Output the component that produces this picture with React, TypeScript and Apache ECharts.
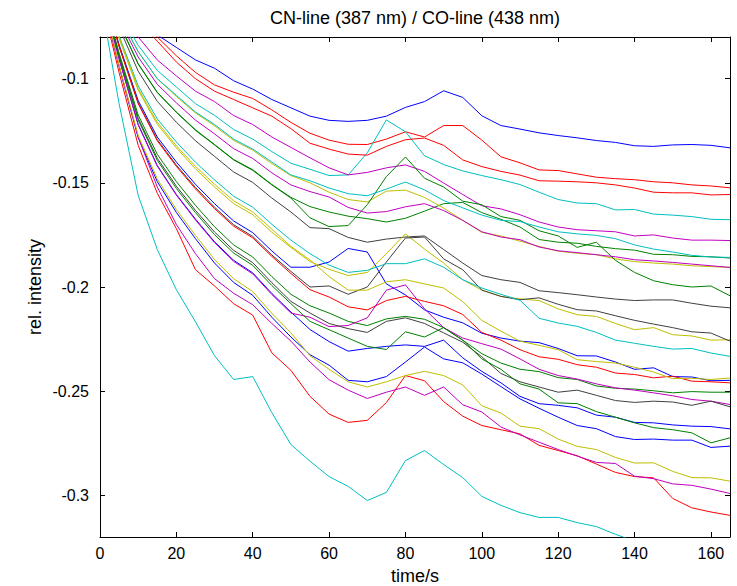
import { useEffect, useRef } from "react";
import * as echarts from "echarts";

// time axis (s)
const times = [0, 5, 10, 15, 20, 25, 30, 35, 40, 45, 50, 55, 60, 65, 70, 75, 80, 85, 90, 95, 100, 105, 110, 115, 120, 125, 130, 135, 140, 145, 150, 155, 160, 165];

// relative intensity curves
const lineA = [-0.040, -0.058, -0.069, -0.079, -0.085, -0.091, -0.095, -0.101, -0.105, -0.110, -0.114, -0.118, -0.120, -0.1205, -0.120, -0.118, -0.1138, -0.111, -0.1058, -0.109, -0.1178, -0.1225, -0.1242, -0.126, -0.1273, -0.1284, -0.1297, -0.1306, -0.1322, -0.1325, -0.1318, -0.1316, -0.132, -0.1332];
const lineB = [-0.040, -0.058, -0.070, -0.080, -0.089, -0.097, -0.103, -0.1065, -0.1095, -0.115, -0.121, -0.1262, -0.1295, -0.1315, -0.1316, -0.129, -0.1255, -0.128, -0.1225, -0.1225, -0.1295, -0.1375, -0.1404, -0.1438, -0.1441, -0.1457, -0.1473, -0.148, -0.1485, -0.1495, -0.150, -0.151, -0.1515, -0.1524];
const lineC = [-0.041, -0.060, -0.072, -0.082, -0.092, -0.100, -0.106, -0.110, -0.114, -0.118, -0.124, -0.131, -0.1338, -0.1362, -0.1367, -0.1325, -0.1293, -0.1285, -0.132, -0.139, -0.1422, -0.1445, -0.1463, -0.149, -0.1492, -0.1495, -0.150, -0.151, -0.1525, -0.1545, -0.1548, -0.1548, -0.1558, -0.1556];
const lineD = [-0.048, -0.068, -0.084, -0.096, -0.104, -0.112, -0.1176, -0.1244, -0.129, -0.135, -0.1406, -0.1435, -0.1465, -0.1462, -0.1356, -0.1198, -0.1255, -0.137, -0.1412, -0.1443, -0.1465, -0.1485, -0.1508, -0.1545, -0.158, -0.1597, -0.160, -0.163, -0.1628, -0.165, -0.1655, -0.1662, -0.1675, -0.1677];
const lineE = [-0.047, -0.066, -0.080, -0.091, -0.0987, -0.106, -0.111, -0.1177, -0.122, -0.128, -0.133, -0.138, -0.1428, -0.1462, -0.145, -0.1428, -0.1414, -0.1445, -0.1501, -0.1556, -0.161, -0.1625, -0.1653, -0.1688, -0.1712, -0.1725, -0.173, -0.1735, -0.1755, -0.175, -0.1765, -0.1775, -0.1775, -0.1777];
const lineF = [-0.048, -0.070, -0.087, -0.100, -0.108, -0.116, -0.122, -0.129, -0.1338, -0.140, -0.1462, -0.149, -0.1525, -0.1552, -0.1562, -0.153, -0.1496, -0.1534, -0.1585, -0.162, -0.1655, -0.168, -0.1686, -0.1712, -0.1735, -0.1745, -0.1752, -0.1768, -0.1798, -0.1818, -0.1832, -0.1848, -0.1856, -0.1858];
const lineG = [-0.0493, -0.0733, -0.0928, -0.1065, -0.116, -0.1245, -0.1316, -0.1388, -0.1437, -0.1508, -0.157, -0.1614, -0.164, -0.166, -0.1672, -0.1688, -0.167, -0.1636, -0.160, -0.1594, -0.1643, -0.1675, -0.1712, -0.1772, -0.1785, -0.179, -0.1805, -0.1816, -0.1823, -0.1843, -0.1845, -0.1853, -0.1855, -0.1861];
const lineH = [-0.048, -0.070, -0.087, -0.100, -0.1085, -0.1165, -0.1226, -0.1296, -0.1343, -0.1408, -0.1465, -0.150, -0.1545, -0.158, -0.1592, -0.154, -0.1535, -0.157, -0.1621, -0.168, -0.1738, -0.1755, -0.178, -0.1805, -0.1828, -0.1838, -0.1845, -0.1865, -0.1878, -0.1885, -0.189, -0.1898, -0.1902, -0.1906];
const lineI = [-0.0487, -0.0715, -0.0896, -0.1027, -0.1116, -0.1199, -0.1265, -0.1336, -0.1383, -0.1452, -0.151, -0.1542, -0.1568, -0.1618, -0.1645, -0.1638, -0.1615, -0.160, -0.1633, -0.168, -0.1735, -0.176, -0.1773, -0.1808, -0.1826, -0.1835, -0.1845, -0.1855, -0.1869, -0.1875, -0.1882, -0.189, -0.1898, -0.1906];
const lineJ = [-0.049, -0.0734, -0.093, -0.1067, -0.1162, -0.1248, -0.1318, -0.139, -0.144, -0.151, -0.1573, -0.1668, -0.171, -0.1705, -0.1605, -0.147, -0.1376, -0.1478, -0.152, -0.1588, -0.1605, -0.1662, -0.168, -0.173, -0.1755, -0.181, -0.1785, -0.1872, -0.193, -0.197, -0.1989, -0.200, -0.1995, -0.2042];
const lineK = [-0.050, -0.0754, -0.0964, -0.1109, -0.1209, -0.1298, -0.1373, -0.1448, -0.1498, -0.1573, -0.164, -0.1715, -0.172, -0.1762, -0.1785, -0.177, -0.176, -0.1755, -0.182, -0.1885, -0.1945, -0.1965, -0.1978, -0.2018, -0.2027, -0.2037, -0.2048, -0.2058, -0.2065, -0.2062, -0.2062, -0.2078, -0.2092, -0.210];
const lineL = [-0.0529, -0.0843, -0.1116, -0.1292, -0.1415, -0.1522, -0.1617, -0.1701, -0.1757, -0.1846, -0.1925, -0.200, -0.1995, -0.2035, -0.200, -0.188, -0.1765, -0.176, -0.1865, -0.1917, -0.2015, -0.2045, -0.2061, -0.2052, -0.2083, -0.2109, -0.2115, -0.2138, -0.216, -0.2178, -0.2195, -0.2215, -0.2221, -0.226];
const lineM = [-0.0517, -0.0808, -0.1055, -0.1219, -0.1332, -0.1433, -0.152, -0.160, -0.1653, -0.1737, -0.181, -0.1878, -0.1915, -0.1945, -0.193, -0.184, -0.1745, -0.1818, -0.1885, -0.1965, -0.2015, -0.2045, -0.2057, -0.2065, -0.2105, -0.2133, -0.2141, -0.2175, -0.2205, -0.2195, -0.2229, -0.2235, -0.2255, -0.2253];
const lineN = [-0.0513, -0.0795, -0.1034, -0.1193, -0.1304, -0.1401, -0.1486, -0.1564, -0.1617, -0.1699, -0.1775, -0.184, -0.1895, -0.193, -0.192, -0.1888, -0.1888, -0.1865, -0.1905, -0.1965, -0.2005, -0.2035, -0.2064, -0.215, -0.2173, -0.2189, -0.2218, -0.2255, -0.227, -0.2285, -0.2298, -0.2295, -0.2317, -0.2333];
const lineO = [-0.0516, -0.080, -0.1047, -0.1209, -0.1322, -0.1421, -0.1507, -0.1586, -0.164, -0.1722, -0.1805, -0.187, -0.195, -0.2015, -0.2015, -0.1975, -0.1965, -0.1985, -0.2005, -0.207, -0.216, -0.2212, -0.226, -0.228, -0.2301, -0.2349, -0.2358, -0.2365, -0.2385, -0.2408, -0.244, -0.2438, -0.2444, -0.2437];
const lineP = [-0.0527, -0.0837, -0.1105, -0.128, -0.140, -0.1507, -0.160, -0.1683, -0.1739, -0.1827, -0.1905, -0.1905, -0.188, -0.1815, -0.1832, -0.1985, -0.2038, -0.211, -0.2145, -0.2172, -0.2222, -0.2245, -0.226, -0.2267, -0.2295, -0.233, -0.2331, -0.236, -0.2395, -0.2388, -0.243, -0.2432, -0.245, -0.2448];
const lineQ = [-0.0529, -0.0846, -0.112, -0.1298, -0.1421, -0.1529, -0.1624, -0.1708, -0.1764, -0.1853, -0.1935, -0.2013, -0.2048, -0.2095, -0.211, -0.2065, -0.2045, -0.2069, -0.209, -0.2132, -0.2218, -0.2255, -0.2301, -0.2335, -0.2347, -0.2373, -0.2385, -0.2413, -0.242, -0.2436, -0.2428, -0.2452, -0.2455, -0.246];
const lineR = [-0.054, -0.0877, -0.1174, -0.1363, -0.1494, -0.1608, -0.1711, -0.1798, -0.1856, -0.195, -0.2035, -0.209, -0.2125, -0.2165, -0.2185, -0.2153, -0.2141, -0.2155, -0.2195, -0.2255, -0.232, -0.2365, -0.2395, -0.2406, -0.2435, -0.2444, -0.2475, -0.2486, -0.249, -0.2498, -0.2508, -0.2502, -0.2505, -0.2505];
const lineS = [-0.0543, -0.0887, -0.119, -0.1382, -0.1516, -0.1632, -0.1736, -0.1824, -0.1883, -0.1979, -0.2069, -0.2125, -0.2175, -0.220, -0.2218, -0.2165, -0.2148, -0.2175, -0.222, -0.2265, -0.2335, -0.2415, -0.2455, -0.248, -0.2505, -0.2495, -0.252, -0.2545, -0.2554, -0.2548, -0.2552, -0.2568, -0.2548, -0.2575];
const lineT = [-0.0549, -0.0905, -0.1222, -0.142, -0.1559, -0.1678, -0.1787, -0.1877, -0.1937, -0.2036, -0.2125, -0.2145, -0.219, -0.2185, -0.2148, -0.2015, -0.199, -0.2105, -0.2195, -0.2245, -0.2272, -0.2298, -0.2345, -0.2395, -0.2425, -0.2442, -0.2465, -0.2484, -0.2495, -0.2508, -0.2522, -0.254, -0.2548, -0.2564];
const lineU = [-0.0548, -0.0904, -0.1219, -0.1417, -0.1556, -0.1674, -0.1783, -0.1872, -0.1932, -0.2031, -0.212, -0.2204, -0.2262, -0.2308, -0.2295, -0.2285, -0.2278, -0.2285, -0.2255, -0.234, -0.2405, -0.246, -0.2525, -0.256, -0.2568, -0.258, -0.2615, -0.2625, -0.265, -0.2652, -0.2662, -0.2668, -0.267, -0.2681];
const lineV = [-0.0544, -0.0891, -0.1198, -0.1392, -0.1527, -0.1643, -0.1749, -0.1837, -0.1896, -0.1993, -0.208, -0.2165, -0.2205, -0.2245, -0.2285, -0.230, -0.2215, -0.224, -0.2195, -0.2255, -0.2345, -0.2395, -0.2465, -0.249, -0.2556, -0.256, -0.2598, -0.2625, -0.2652, -0.2675, -0.2685, -0.270, -0.2748, -0.2724];
const lineW = [-0.056, -0.0941, -0.1283, -0.1494, -0.1642, -0.1768, -0.1885, -0.1978, -0.204, -0.2145, -0.224, -0.2325, -0.2375, -0.2448, -0.2455, -0.243, -0.236, -0.2288, -0.2345, -0.2364, -0.2418, -0.2478, -0.2537, -0.2582, -0.2625, -0.2665, -0.268, -0.2718, -0.2732, -0.273, -0.2735, -0.2735, -0.277, -0.2764];
const lineX = [-0.0558, -0.0935, -0.1272, -0.1481, -0.1628, -0.1752, -0.1868, -0.196, -0.2022, -0.2126, -0.222, -0.233, -0.2395, -0.2455, -0.248, -0.2455, -0.2425, -0.2405, -0.2425, -0.247, -0.257, -0.2605, -0.2668, -0.268, -0.273, -0.2765, -0.278, -0.2818, -0.2845, -0.2844, -0.2885, -0.2915, -0.2916, -0.2932];
const lineY = [-0.057, -0.094, -0.128, -0.152, -0.170, -0.184, -0.196, -0.203, -0.2085, -0.2175, -0.226, -0.236, -0.2445, -0.2495, -0.2535, -0.2505, -0.248, -0.252, -0.248, -0.2565, -0.260, -0.2672, -0.271, -0.2745, -0.278, -0.2812, -0.2842, -0.2847, -0.2908, -0.292, -0.2945, -0.2952, -0.297, -0.2991];
const lineZ = [-0.059, -0.097, -0.132, -0.155, -0.172, -0.1917, -0.1995, -0.208, -0.2135, -0.2316, -0.240, -0.2525, -0.261, -0.265, -0.264, -0.2555, -0.2425, -0.245, -0.255, -0.262, -0.2665, -0.2685, -0.2705, -0.276, -0.2785, -0.281, -0.285, -0.289, -0.291, -0.2916, -0.3015, -0.306, -0.308, -0.3096];
const lineAA = [-0.060, -0.112, -0.156, -0.182, -0.2013, -0.2167, -0.233, -0.2444, -0.243, -0.2603, -0.2756, -0.2836, -0.291, -0.2957, -0.3025, -0.2986, -0.2833, -0.2785, -0.2852, -0.2915, -0.3005, -0.3048, -0.3083, -0.3106, -0.3106, -0.3131, -0.315, -0.3187, -0.322, -0.324, -0.326, -0.327, -0.329, -0.331];

// tick labels
const xTicks = [0, 20, 40, 60, 80, 100, 120, 140, 160];
const yTicks = [-0.3, -0.25, -0.2, -0.15, -0.1];

// MATLAB classic colour order
const BLUE = "#0000ff";
const GREEN = "#008000";
const RED = "#ff0000";
const CYAN = "#00bfbf";
const MAGENTA = "#bf00bf";
const YELLOW = "#bfbf00";
const GRAY = "#404040";

const curves = [
  { name: "1", color: BLUE, values: lineA },
  { name: "2", color: GREEN, values: lineG },
  { name: "3", color: RED, values: lineB },
  { name: "4", color: CYAN, values: lineD },
  { name: "5", color: MAGENTA, values: lineE },
  { name: "6", color: YELLOW, values: lineH },
  { name: "7", color: GRAY, values: lineK },
  { name: "8", color: BLUE, values: lineP },
  { name: "9", color: GREEN, values: lineJ },
  { name: "10", color: RED, values: lineC },
  { name: "11", color: CYAN, values: lineF },
  { name: "12", color: MAGENTA, values: lineI },
  { name: "13", color: YELLOW, values: lineM },
  { name: "14", color: GRAY, values: lineL },
  { name: "15", color: BLUE, values: lineU },
  { name: "16", color: GREEN, values: lineR },
  { name: "17", color: RED, values: lineQ },
  { name: "18", color: CYAN, values: lineN },
  { name: "19", color: MAGENTA, values: lineT },
  { name: "20", color: YELLOW, values: lineO },
  { name: "21", color: GRAY, values: lineS },
  { name: "22", color: BLUE, values: lineW },
  { name: "23", color: GREEN, values: lineV },
  { name: "24", color: RED, values: lineZ },
  { name: "25", color: CYAN, values: lineAA },
  { name: "26", color: MAGENTA, values: lineY },
  { name: "27", color: YELLOW, values: lineX },
];

const FONT = "'Liberation Sans', Arial, Helvetica, sans-serif";

export default function App() {
  const ref = useRef<HTMLDivElement>(null);

  useEffect(() => {
    document.body.style.margin = "0";
    const chart = echarts.init(ref.current as HTMLDivElement, null, { renderer: "svg" });

    const axisLineStyle = { color: "#000000", width: 1 };
    const tickCommon = { inside: true, length: 5, lineStyle: { color: "#000000", width: 1 } };

    chart.setOption({
      animation: false,
      backgroundColor: "#ffffff",
      grid: { left: 100, right: 7, top: 37, bottom: 49, containLabel: false },
      xAxis: [
        {
          type: "value",
          min: 0,
          max: 165,
          position: "bottom",
          axisLine: { show: true, onZero: false, lineStyle: axisLineStyle },
          axisTick: { ...tickCommon, customValues: xTicks },
          axisLabel: {
            customValues: xTicks,
            margin: 8,
            color: "#000000",
            fontSize: 16,
            fontFamily: FONT,
            formatter: (v: number) => String(v),
          },
          splitLine: { show: false },
        },
        {
          type: "value",
          min: 0,
          max: 165,
          position: "top",
          axisLine: { show: true, onZero: false, lineStyle: axisLineStyle },
          axisTick: { ...tickCommon, customValues: xTicks },
          axisLabel: { show: false },
          splitLine: { show: false },
        },
      ],
      yAxis: [
        {
          type: "value",
          min: -0.32,
          max: -0.08,
          position: "left",
          axisLine: { show: true, onZero: false, lineStyle: axisLineStyle },
          axisTick: { ...tickCommon, customValues: yTicks },
          axisLabel: {
            customValues: yTicks,
            margin: 11,
            color: "#000000",
            fontSize: 16,
            fontFamily: FONT,
            formatter: (v: number) => String(v),
          },
          splitLine: { show: false },
        },
        {
          type: "value",
          min: -0.32,
          max: -0.08,
          position: "right",
          axisLine: { show: true, onZero: false, lineStyle: axisLineStyle },
          axisTick: { ...tickCommon, customValues: yTicks },
          axisLabel: { show: false },
          splitLine: { show: false },
        },
      ],
      graphic: [
        {
          type: "text",
          x: 415,
          y: 18,
          style: {
            text: "CN-line (387 nm) / CO-line (438 nm)",
            font: `18px ${FONT}`,
            fill: "#000000",
            align: "center",
            verticalAlign: "middle",
          },
        },
        {
          type: "text",
          x: 35,
          y: 287,
          rotation: Math.PI / 2,
          style: {
            text: "rel. intensity",
            font: `18px ${FONT}`,
            fill: "#000000",
            align: "center",
            verticalAlign: "middle",
          },
        },
        {
          type: "text",
          x: 415,
          y: 576,
          style: {
            text: "time/s",
            font: `18px ${FONT}`,
            fill: "#000000",
            align: "center",
            verticalAlign: "middle",
          },
        },
      ],
      series: curves.map((c) => ({
        name: c.name,
        type: "line",
        xAxisIndex: 0,
        yAxisIndex: 0,
        showSymbol: false,
        symbol: "none",
        silent: true,
        clip: true,
        lineStyle: { color: c.color, width: 1 },
        itemStyle: { color: c.color },
        data: times.map((t, i) => [t, c.values[i]]),
      })),
    });

    return () => {
      chart.dispose();
    };
  }, []);

  return (
    <div
      ref={ref}
      style={{ position: "fixed", left: 0, top: 0, width: 737, height: 586 }}
    />
  );
}
